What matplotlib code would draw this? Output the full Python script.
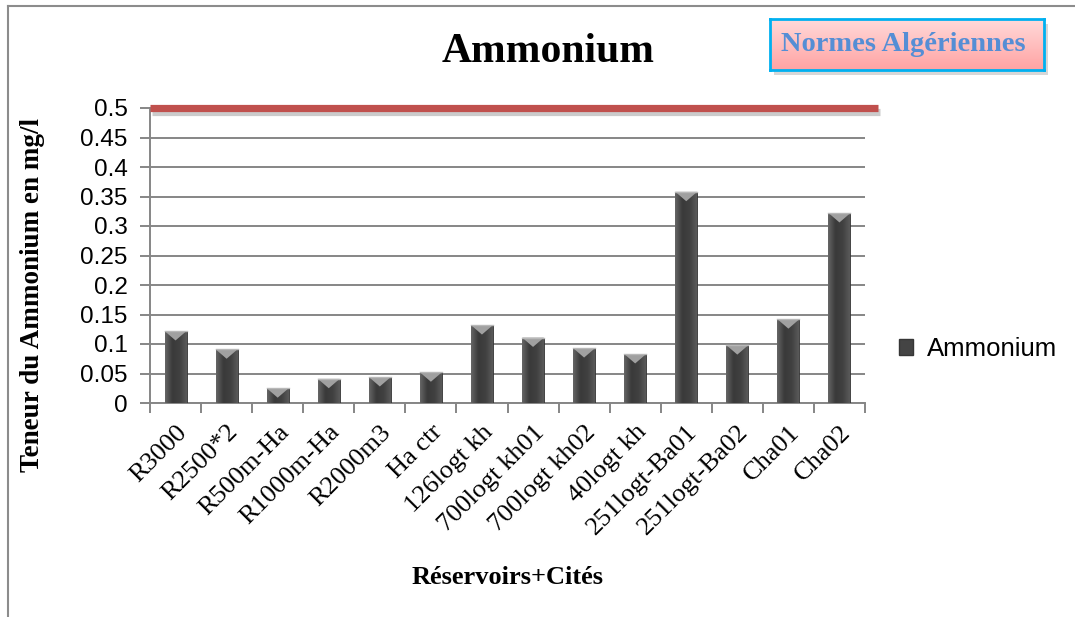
import numpy as np
import matplotlib
matplotlib.use('Agg')
import matplotlib.pyplot as plt
from matplotlib.patches import Polygon, Patch, Rectangle
from matplotlib.lines import Line2D
import matplotlib.patheffects as pe
import matplotlib.transforms as mtransforms
from matplotlib.colors import LinearSegmentedColormap

# Ammonium content per reservoir / district (mg/l)
sites = ['R3000', 'R2500*2', 'R500m-Ha', 'R1000m-Ha', 'R2000m3', 'Ha ctr',
         '126logt kh', '700logt kh01', '700logt kh02', '40logt kh',
         '251logt-Ba01', '251logt-Ba02', 'Cha01', 'Cha02']
ammonium = [0.122, 0.091, 0.025, 0.041, 0.044, 0.052, 0.132,
            0.111, 0.093, 0.083, 0.358, 0.098, 0.142, 0.322]
norme = 0.5
yticks = [0, 0.05, 0.1, 0.15, 0.2, 0.25, 0.3, 0.35, 0.4, 0.45, 0.5]
ytick_labels = ['0', '0.05', '0.1', '0.15', '0.2', '0.25', '0.3',
                '0.35', '0.4', '0.45', '0.5']

SERIF = 'Liberation Serif'
SANS = 'Liberation Sans'
GRID = '#868686'

W, H = 1075, 617
fig = plt.figure(figsize=(W / 100, H / 100), dpi=100)
fig.patch.set_facecolor('white')


def fx(px):
    return px / W


def fy(py):
    return 1 - py / H


# chart area border (top and left edges only show)
fig.add_artist(Line2D([fx(8), 1], [fy(6), fy(6)], color='#8c8c8c', lw=1.5))
fig.add_artist(Line2D([fx(8), fx(8)], [fy(6), 0], color='#8c8c8c', lw=1.5))

ax = fig.add_axes([fx(150), fy(403), fx(865) - fx(150), fy(108) - fy(403)])
x = np.arange(len(sites))
width = 0.43

bars = ax.bar(x, ammonium, width=width, color='#444444', edgecolor='#363636',
              lw=0.6, zorder=3)

# cylinder-like shading on each bar plus a bevel at the top
shade = LinearSegmentedColormap.from_list('shade', ['#666666', '#3a3a3a', '#404040', '#5a5a5a'])
grad = np.linspace(0, 1, 64).reshape(1, -1)
bevel_depth = 0.016
for xi, v, patch in zip(x, ammonium, bars.patches):
    x0, x1 = xi - width / 2, xi + width / 2
    im = ax.imshow(grad, extent=[x0, x1, 0, v], cmap=shade, aspect='auto',
                   zorder=3.1, interpolation='bicubic')
    im.set_clip_path(patch)
    tri = Polygon([[x0, v], [x1, v], [xi, v - bevel_depth]], closed=True,
                  facecolor='#a0a0a0', edgecolor='none', zorder=3.2)
    ax.add_patch(tri)
    ax.add_line(Line2D([x0, x1], [v, v], color='#b8b8b8', lw=1.0, zorder=3.3))

ax.set_xlim(-0.5, len(sites) - 0.5)
ax.set_ylim(0, 0.5)
ax.set_aspect('auto')

# norm line (Algerian standard)
ax.plot([-0.5, 13.75], [norme, norme], color='#C0504D', lw=5.2,
        solid_capstyle='butt', clip_on=False, zorder=5,
        path_effects=[pe.SimpleLineShadow(offset=(1.5, -3), shadow_color='#999999', alpha=0.5),
                      pe.Normal()])

ax.set_yticks(yticks)
ax.set_yticklabels(ytick_labels, fontfamily=SANS, fontsize=17.5)
ax.yaxis.grid(True, color=GRID, lw=1.4, zorder=0)
ax.set_axisbelow(True)

ax.set_xticks(x)
ax.set_xticklabels(sites, fontfamily=SERIF, fontsize=19, rotation=45,
                   ha='right', va='top', rotation_mode='anchor')
shift = mtransforms.ScaledTranslation(0.05, 0, fig.dpi_scale_trans)
for lab in ax.get_xticklabels():
    lab.set_transform(lab.get_transform() + shift)
ax.set_xticks(np.arange(-0.5, len(sites)), minor=True)
ax.tick_params(axis='x', which='major', length=0, pad=13)
ax.tick_params(axis='x', which='minor', length=7, width=1.4, color=GRID, direction='out')
ax.tick_params(axis='y', length=7, width=1.4, color=GRID, direction='out', pad=9)

for side in ['top', 'right']:
    ax.spines[side].set_visible(False)
for side in ['left', 'bottom']:
    ax.spines[side].set_color(GRID)
    ax.spines[side].set_linewidth(1.4)

# legend
handle = Patch(facecolor='#444444', edgecolor='#363636', label='Ammonium')
ax.legend(handles=[handle], loc='center left', bbox_to_anchor=(fx(899), fy(349)),
          bbox_transform=fig.transFigure, frameon=False, borderpad=0,
          borderaxespad=0, handlelength=0.55, handleheight=0.55, handletextpad=0.55,
          prop={'family': SANS, 'size': 18.5})

# titles
fig.text(fx(548), fy(52), 'Ammonium', ha='center', va='center',
         fontfamily=SERIF, fontweight='bold', fontsize=30)
fig.text(fx(33), fy(295), 'Teneur du Ammonium en mg/l', ha='center', va='center',
         rotation=90, fontfamily=SERIF, fontweight='bold', fontsize=19.5)
fig.text(fx(508), fy(578), 'Réservoirs+Cités', ha='center', va='center',
         fontfamily=SERIF, fontweight='bold', fontsize=19)

# "Normes Algériennes" box with pink gradient and shadow
bx0, by0, bx1, by1 = 770, 19, 1044, 70
fig.add_artist(Rectangle((fx(bx0 + 4), fy(by1 + 5)), fx(bx1) - fx(bx0), fy(by0) - fy(by1),
                         transform=fig.transFigure, facecolor='#bdbdbd', edgecolor='none',
                         alpha=0.6, zorder=1))
bax = fig.add_axes([fx(bx0), fy(by1), fx(bx1) - fx(bx0), fy(by0) - fy(by1)], zorder=2)
pink = LinearSegmentedColormap.from_list('pink', ['#FFA3A3', '#FFDADA'])
bax.imshow(np.linspace(0, 1, 64).reshape(-1, 1)[::-1], cmap=pink, aspect='auto',
           extent=[0, 1, 0, 1], interpolation='bicubic')
bax.set_xticks([])
bax.set_yticks([])
for s in bax.spines.values():
    s.set_color('#00B0F0')
    s.set_linewidth(2.0)
bax.text(0.485, 0.5, 'Normes Algériennes', ha='center', va='center',
         transform=bax.transAxes, color='#558ED5', fontfamily=SERIF,
         fontweight='bold', fontsize=20.5)

fig.savefig('out.png', dpi=100)
